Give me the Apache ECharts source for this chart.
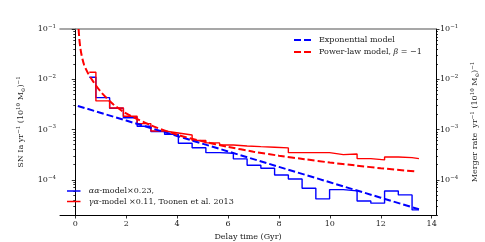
<!DOCTYPE html>
<html><head><meta charset="utf-8">
<script src="https://cdn.jsdelivr.net/npm/echarts@6/dist/echarts.min.js"></script>
<style>html,body{margin:0;padding:0;background:#fff}#c{width:485px;height:242px}</style>
</head><body><div id="c"></div>
<script>
// ---- data ----
const binEdges = [0.55,0.81,1.35,1.89,2.43,2.97,3.51,4.05,4.59,5.13,5.67,6.21,6.75,7.29,7.83,8.37,8.91,9.45,9.99,10.53,11.07,11.61,12.15,12.69,13.23,13.5];
const aaModel = [0.01096,0.00431,0.00265,0.00172,0.00116,0.000916,0.000800,0.000535,0.000435,0.000347,0.000338,0.000261,0.000195,0.000170,0.000125,0.000104,6.81e-5,4.17e-5,6.38e-5,6.01e-5,3.80e-5,3.43e-5,6.01e-5,5.01e-5,2.52e-5];
const gaModel = [0.01377,0.00371,0.00269,0.00184,0.00131,0.000937,0.000855,0.000781,0.000607,0.000542,0.000494,0.000472,0.000457,0.000445,0.000431,0.000347,0.000347,0.000347,0.000317,0.000327,0.000264,0.000249,0.000285,0.000276,0.000264];
const expX = [0.1,2,4,6,8,10,12,13.5];
const expY = [2.95e-3,1.51e-3,7.45e-4,3.67e-4,1.81e-4,8.93e-5,4.41e-5,2.59e-5];
const powX = [0.13,0.16,0.2,0.25,0.35,0.5,0.7,1.0,1.5,2.0,3.0,4.0,5.0,6.0,7.0,8.0,9.0,10.0,11.0,12.0,13.4];
const powY = [0.1,0.063,0.042,0.030,0.0192,0.0132,0.0091,0.00566,0.00316,0.00209,0.00120,0.00079,0.000582,0.000452,0.000363,0.000302,0.000257,0.000221,0.000193,0.000170,0.000146];
const xTicks = [0,2,4,6,8,10,12,14];
const yDecades = [-4,-3,-2,-1];

const FONT = 'DejaVu Serif';
const lg = v => Math.log10(v);
function stepData(edges, vals){
  const d = [];
  for (let i = 0; i < vals.length; i++){
    d.push([edges[i], lg(vals[i])]);
    d.push([edges[i+1], lg(vals[i])]);
  }
  return d;
}
const yMinor = [];
for (let n = -5; n <= -2; n++) for (let k = 2; k <= 9; k++){
  const v = Math.log10(k) + n;
  if (v > -4.7 && v < -1) yMinor.push(v);
}
const YMIN = -4.7, YMAX = -1;
const supRich = {
  sup: {fontSize: 5.5, fontFamily: FONT, verticalAlign: 'top', lineHeight: 11, color: '#222'},
  sub: {fontSize: 5.5, fontFamily: FONT, verticalAlign: 'bottom', lineHeight: 11, color: '#222'},
  n: {fontSize: 8, fontFamily: FONT, lineHeight: 11, color: '#222'}
};
const tickLabel = v => '{n|10}{sup|' + String(Math.round(v)).replace('-', '−') + '}';
function yAx(pos, minor, name){
  const a = {
    type: 'value', position: pos, min: YMIN, max: YMAX,
    splitLine: {show: false},
    axisLine: {show: !minor, lineStyle: {color: '#000', width: 1}},
    axisTick: {show: true, customValues: minor ? yMinor : yDecades, length: minor ? 2 : 3.5, lineStyle: {color: '#000', width: 0.8}},
    axisLabel: minor ? {show: false} : {show: true, customValues: yDecades, formatter: tickLabel, margin: 4, rich: supRich}
  };
  if (name){
    a.name = name; a.nameLocation = 'middle'; a.nameRotate = 90; a.nameGap = 30;
    a.nameTextStyle = {fontFamily: FONT, fontSize: 8, color: '#222', rich: supRich};
  }
  return a;
}
const legendRich = {it: {fontStyle: 'italic', fontFamily: FONT, fontSize: 8, color: '#222'}};
const legFmt = name => name.replace('αα', '{it|αα}').replace('γα', '{it|γα}').replace('β', '{it|β}');
const DASH_ICON = 'path://M0,0H7V2H0Z M10,0H17V2H10Z';
const SOLID_ICON = 'path://M0,0H18V2H0Z';

const chart = echarts.init(document.getElementById('c'), null, {renderer: 'canvas'});
chart.setOption({
  animation: false,
  backgroundColor: '#fff',
  grid: {left: 60, right: 49, top: 29, bottom: 27, outerBoundsMode: 'none', containLabel: false},
  xAxis: [
    {type: 'value', min: -0.6, max: 14.17, position: 'bottom',
     splitLine: {show: false},
     axisLine: {lineStyle: {color: '#000', width: 1}},
     axisTick: {customValues: xTicks, length: 3.5, lineStyle: {color: '#000', width: 0.8}},
     axisLabel: {customValues: xTicks, fontFamily: FONT, fontSize: 8, color: '#222', margin: 5},
     name: 'Delay time (Gyr)', nameLocation: 'middle', nameGap: 16,
     nameTextStyle: {fontFamily: FONT, fontSize: 8, color: '#222'}},
    {type: 'value', min: -0.6, max: 14.17, position: 'top',
     splitLine: {show: false}, axisTick: {show: false}, axisLabel: {show: false},
     axisLine: {lineStyle: {color: '#8a8a8a', width: 1.6}}}
  ],
  yAxis: [
    yAx('left', false, '{n|SN Ia yr}{sup|−1}{n| (10}{sup|10}{n| M}{sub|⊙}{n|)}{sup|−1}'),
    yAx('left', true),
    yAx('right', false, '{n|Merger rate  yr}{sup|−1}{n| (10}{sup|10}{n| M}{sub|⊙}{n|)}{sup|−1}'),
    yAx('right', true)
  ],
  legend: [
    {data: [{name: 'Exponential model', icon: DASH_ICON}, {name: 'Power-law model, β = −1', icon: DASH_ICON}],
     orient: 'vertical', left: 294, top: 36, padding: 0,
     itemWidth: 17, itemHeight: 2, itemGap: 4, formatter: legFmt,
     textStyle: {fontFamily: FONT, fontSize: 8, color: '#222', padding: [0, 0, 0, 3], rich: legendRich}},
    {data: [{name: 'αα-model×0.23,', icon: SOLID_ICON}, {name: 'γα-model ×0.11, Toonen et al. 2013', icon: SOLID_ICON}],
     orient: 'vertical', left: 67, top: 187, padding: 0,
     itemWidth: 18, itemHeight: 1.5, itemGap: 2.5, formatter: legFmt,
     textStyle: {fontFamily: FONT, fontSize: 8, color: '#222', padding: [0, 0, 0, 1], rich: legendRich}}
  ],
  series: [
    {name: 'αα-model×0.23,', type: 'line', symbol: 'none', data: stepData(binEdges, aaModel),
     lineStyle: {color: '#0000ff', width: 1.4}, itemStyle: {color: '#0000ff'}},
    {name: 'γα-model ×0.11, Toonen et al. 2013', type: 'line', symbol: 'none', data: stepData(binEdges, gaModel),
     lineStyle: {color: '#ff0000', width: 1.4}, itemStyle: {color: '#ff0000'}},
    {name: 'Exponential model', type: 'line', symbol: 'none', data: expX.map((x, i) => [x, lg(expY[i])]),
     lineStyle: {color: '#0000ff', width: 2, type: [7, 3]}, itemStyle: {color: '#0000ff'}},
    {name: 'Power-law model, β = −1', type: 'line', symbol: 'none', smooth: 0.3, data: powX.map((x, i) => [x, lg(powY[i])]),
     lineStyle: {color: '#ff0000', width: 2, type: [7, 3]}, itemStyle: {color: '#ff0000'}}
  ]
});
</script></body></html>
